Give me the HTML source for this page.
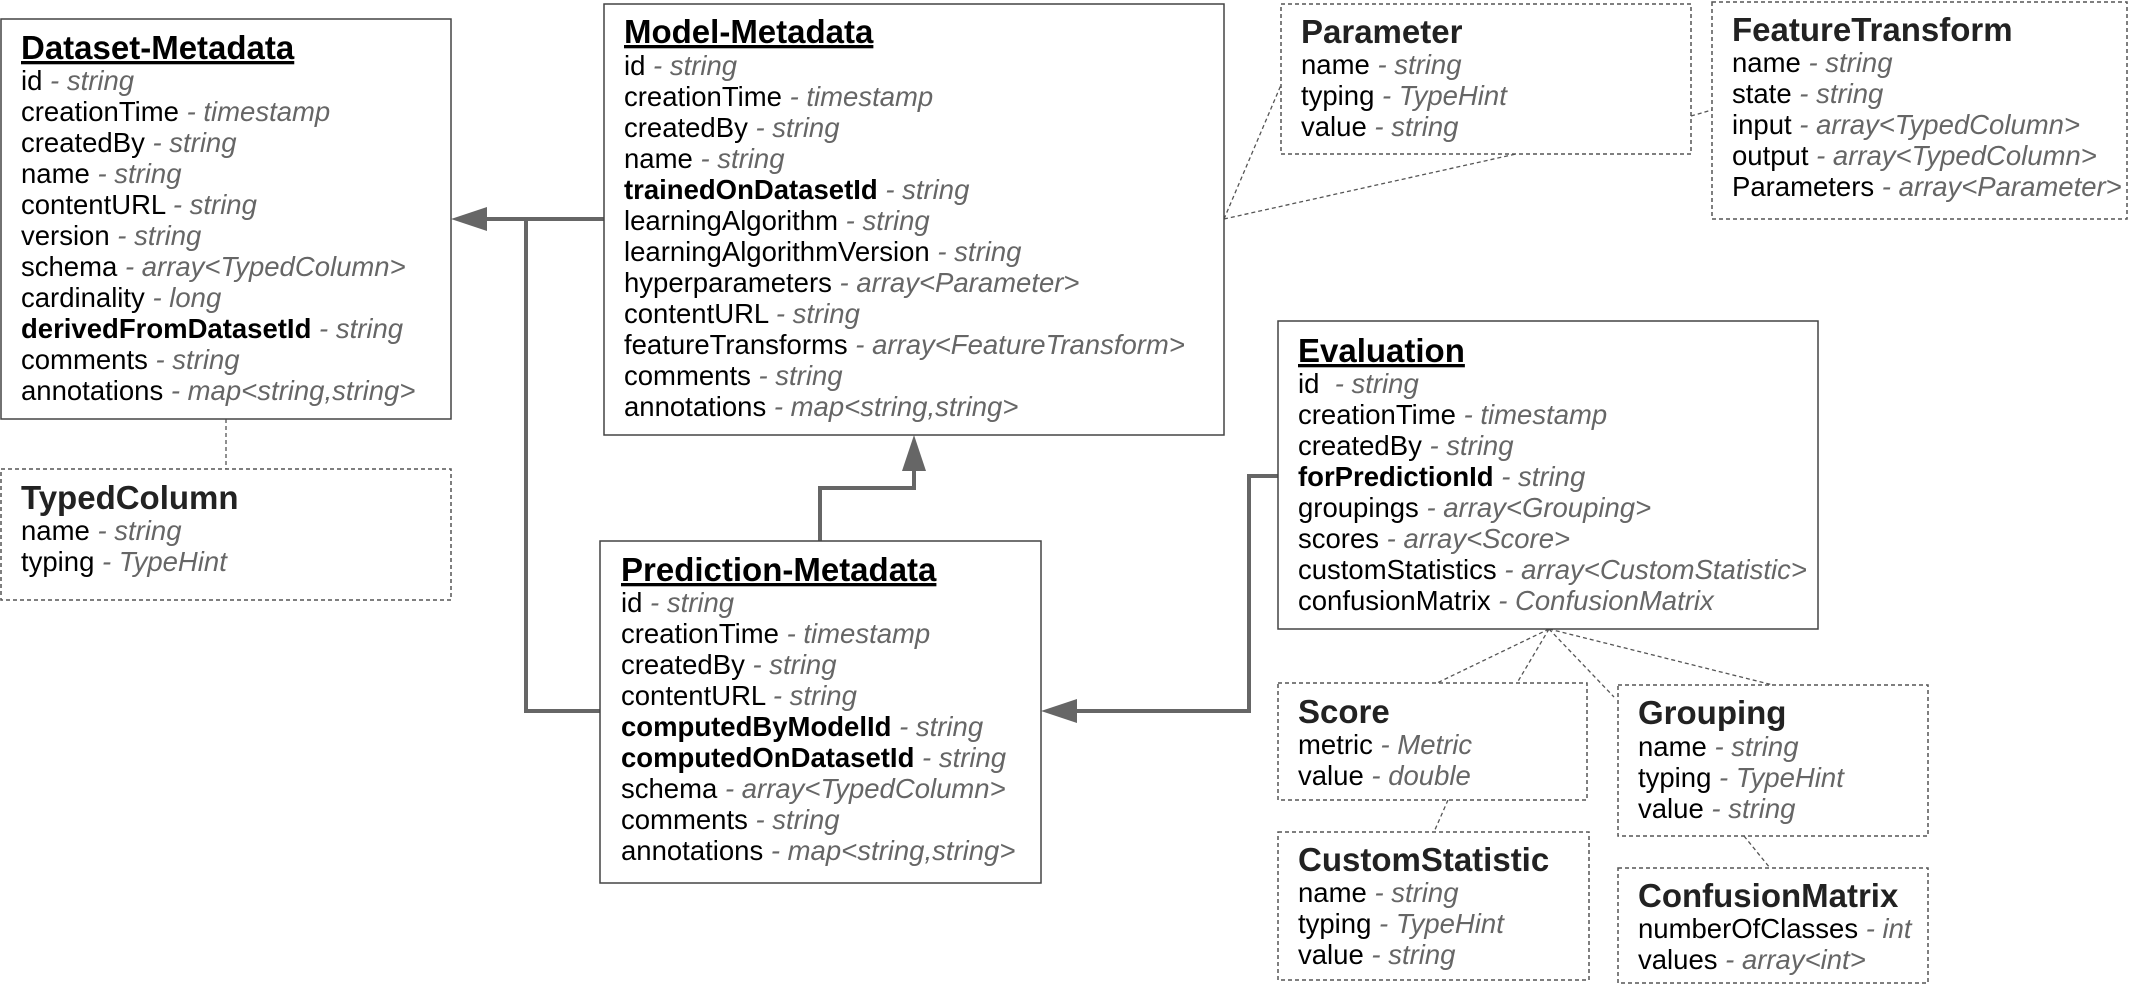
<!DOCTYPE html>
<html><head><meta charset="utf-8"><style>
html,body{margin:0;padding:0;background:#fff;}
svg{display:block;}
text{font-family:"Liberation Sans",Arial,sans-serif;font-size:27.5px;fill:#000;}
.t{font-size:33px;font-weight:bold;text-decoration:underline;}
.d{font-size:33px;font-weight:bold;fill:#222;}
.g{fill:#666;font-style:italic;}
.b{font-weight:bold;}
.box{fill:#fff;stroke:#444;stroke-width:1.5;}
.dbox{fill:#fff;stroke:#555;stroke-width:1.5;stroke-dasharray:4,3;}
.dl{stroke:#555;stroke-width:1.3;stroke-dasharray:4,3;fill:none;}
.c{stroke:#666;stroke-width:4;fill:none;}
</style></head><body>
<svg width="2131" height="987" viewBox="0 0 2131 987" xmlns="http://www.w3.org/2000/svg">
<line class="dl" x1="226" y1="419" x2="226" y2="469"/>
<line class="dl" x1="1224" y1="219" x2="1281" y2="85"/>
<line class="dl" x1="1224" y1="219" x2="1516" y2="154"/>
<line class="dl" x1="1691" y1="116" x2="1712" y2="110"/>
<line class="dl" x1="1549" y1="629" x2="1437" y2="683"/>
<line class="dl" x1="1549" y1="629" x2="1517" y2="683"/>
<line class="dl" x1="1549" y1="629" x2="1614" y2="697"/>
<line class="dl" x1="1549" y1="629" x2="1773" y2="685"/>
<line class="dl" x1="1448" y1="800" x2="1434" y2="832"/>
<line class="dl" x1="1744" y1="836" x2="1770" y2="868"/>
<path class="c" d="M604 219 H480"/>
<path class="c" d="M526 219 V711 H600"/>
<polygon points="451,219 487,207 487,231" fill="#666"/>
<path class="c" d="M820 541 V488 H914 V460"/>
<polygon points="914,435 902,471 926,471" fill="#666"/>
<path class="c" d="M1278 476 H1249 V711 H1075"/>
<polygon points="1041,711 1077,699 1077,723" fill="#666"/>

<rect class="box" x="1" y="19" width="450" height="400"/>
<text x="21" y="59" class="t">Dataset-Metadata</text>
<text x="21" y="90">id <tspan class="g">- string</tspan></text>
<text x="21" y="121">creationTime <tspan class="g">- timestamp</tspan></text>
<text x="21" y="152">createdBy <tspan class="g">- string</tspan></text>
<text x="21" y="183">name <tspan class="g">- string</tspan></text>
<text x="21" y="214">contentURL <tspan class="g">- string</tspan></text>
<text x="21" y="245">version <tspan class="g">- string</tspan></text>
<text x="21" y="276">schema <tspan class="g">- array&lt;TypedColumn&gt;</tspan></text>
<text x="21" y="307">cardinality <tspan class="g">- long</tspan></text>
<text x="21" y="338"><tspan class="b">derivedFromDatasetId</tspan> <tspan class="g">- string</tspan></text>
<text x="21" y="369">comments <tspan class="g">- string</tspan></text>
<text x="21" y="400">annotations <tspan class="g">- map&lt;string,string&gt;</tspan></text>

<rect class="dbox" x="1" y="469" width="450" height="131"/>
<text x="21" y="509" class="d">TypedColumn</text>
<text x="21" y="540">name <tspan class="g">- string</tspan></text>
<text x="21" y="571">typing <tspan class="g">- TypeHint</tspan></text>

<rect class="box" x="604" y="4" width="620" height="431"/>
<text x="624" y="43" class="t">Model-Metadata</text>
<text x="624" y="75">id <tspan class="g">- string</tspan></text>
<text x="624" y="106">creationTime <tspan class="g">- timestamp</tspan></text>
<text x="624" y="137">createdBy <tspan class="g">- string</tspan></text>
<text x="624" y="168">name <tspan class="g">- string</tspan></text>
<text x="624" y="199"><tspan class="b">trainedOnDatasetId</tspan> <tspan class="g">- string</tspan></text>
<text x="624" y="230">learningAlgorithm <tspan class="g">- string</tspan></text>
<text x="624" y="261">learningAlgorithmVersion <tspan class="g">- string</tspan></text>
<text x="624" y="292">hyperparameters <tspan class="g">- array&lt;Parameter&gt;</tspan></text>
<text x="624" y="323">contentURL <tspan class="g">- string</tspan></text>
<text x="624" y="354">featureTransforms <tspan class="g">- array&lt;FeatureTransform&gt;</tspan></text>
<text x="624" y="385">comments <tspan class="g">- string</tspan></text>
<text x="624" y="416">annotations <tspan class="g">- map&lt;string,string&gt;</tspan></text>

<rect class="box" x="600" y="541" width="441" height="342"/>
<text x="621" y="581" class="t">Prediction-Metadata</text>
<text x="621" y="612">id <tspan class="g">- string</tspan></text>
<text x="621" y="643">creationTime <tspan class="g">- timestamp</tspan></text>
<text x="621" y="674">createdBy <tspan class="g">- string</tspan></text>
<text x="621" y="705">contentURL <tspan class="g">- string</tspan></text>
<text x="621" y="736"><tspan class="b">computedByModelId</tspan> <tspan class="g">- string</tspan></text>
<text x="621" y="767"><tspan class="b">computedOnDatasetId</tspan> <tspan class="g">- string</tspan></text>
<text x="621" y="798">schema <tspan class="g">- array&lt;TypedColumn&gt;</tspan></text>
<text x="621" y="829">comments <tspan class="g">- string</tspan></text>
<text x="621" y="860">annotations <tspan class="g">- map&lt;string,string&gt;</tspan></text>

<rect class="dbox" x="1281" y="4" width="410" height="150"/>
<text x="1301" y="43" class="d">Parameter</text>
<text x="1301" y="74">name <tspan class="g">- string</tspan></text>
<text x="1301" y="105">typing <tspan class="g">- TypeHint</tspan></text>
<text x="1301" y="136">value <tspan class="g">- string</tspan></text>

<rect class="dbox" x="1712" y="2" width="415" height="217"/>
<text x="1732" y="41" class="d">FeatureTransform</text>
<text x="1732" y="72">name <tspan class="g">- string</tspan></text>
<text x="1732" y="103">state <tspan class="g">- string</tspan></text>
<text x="1732" y="134">input <tspan class="g">- array&lt;TypedColumn&gt;</tspan></text>
<text x="1732" y="165">output <tspan class="g">- array&lt;TypedColumn&gt;</tspan></text>
<text x="1732" y="196">Parameters <tspan class="g">- array&lt;Parameter&gt;</tspan></text>

<rect class="box" x="1278" y="321" width="540" height="308"/>
<text x="1298" y="362" class="t">Evaluation</text>
<text x="1298" y="393">id &#160;<tspan class="g">- string</tspan></text>
<text x="1298" y="424">creationTime <tspan class="g">- timestamp</tspan></text>
<text x="1298" y="455">createdBy <tspan class="g">- string</tspan></text>
<text x="1298" y="486"><tspan class="b">forPredictionId</tspan> <tspan class="g">- string</tspan></text>
<text x="1298" y="517">groupings <tspan class="g">- array&lt;Grouping&gt;</tspan></text>
<text x="1298" y="548">scores <tspan class="g">- array&lt;Score&gt;</tspan></text>
<text x="1298" y="579">customStatistics <tspan class="g">- array&lt;CustomStatistic&gt;</tspan></text>
<text x="1298" y="610">confusionMatrix <tspan class="g">- ConfusionMatrix</tspan></text>

<rect class="dbox" x="1278" y="683" width="309" height="117"/>
<text x="1298" y="723" class="d">Score</text>
<text x="1298" y="754">metric <tspan class="g">- Metric</tspan></text>
<text x="1298" y="785">value <tspan class="g">- double</tspan></text>

<rect class="dbox" x="1278" y="832" width="311" height="148"/>
<text x="1298" y="871" class="d">CustomStatistic</text>
<text x="1298" y="902">name <tspan class="g">- string</tspan></text>
<text x="1298" y="933">typing <tspan class="g">- TypeHint</tspan></text>
<text x="1298" y="964">value <tspan class="g">- string</tspan></text>

<rect class="dbox" x="1618" y="685" width="310" height="151"/>
<text x="1638" y="724" class="d">Grouping</text>
<text x="1638" y="756">name <tspan class="g">- string</tspan></text>
<text x="1638" y="787">typing <tspan class="g">- TypeHint</tspan></text>
<text x="1638" y="818">value <tspan class="g">- string</tspan></text>

<rect class="dbox" x="1618" y="868" width="310" height="115"/>
<text x="1638" y="907" class="d">ConfusionMatrix</text>
<text x="1638" y="938">numberOfClasses <tspan class="g">- int</tspan></text>
<text x="1638" y="969">values <tspan class="g">- array&lt;int&gt;</tspan></text>
</svg>
</body></html>
